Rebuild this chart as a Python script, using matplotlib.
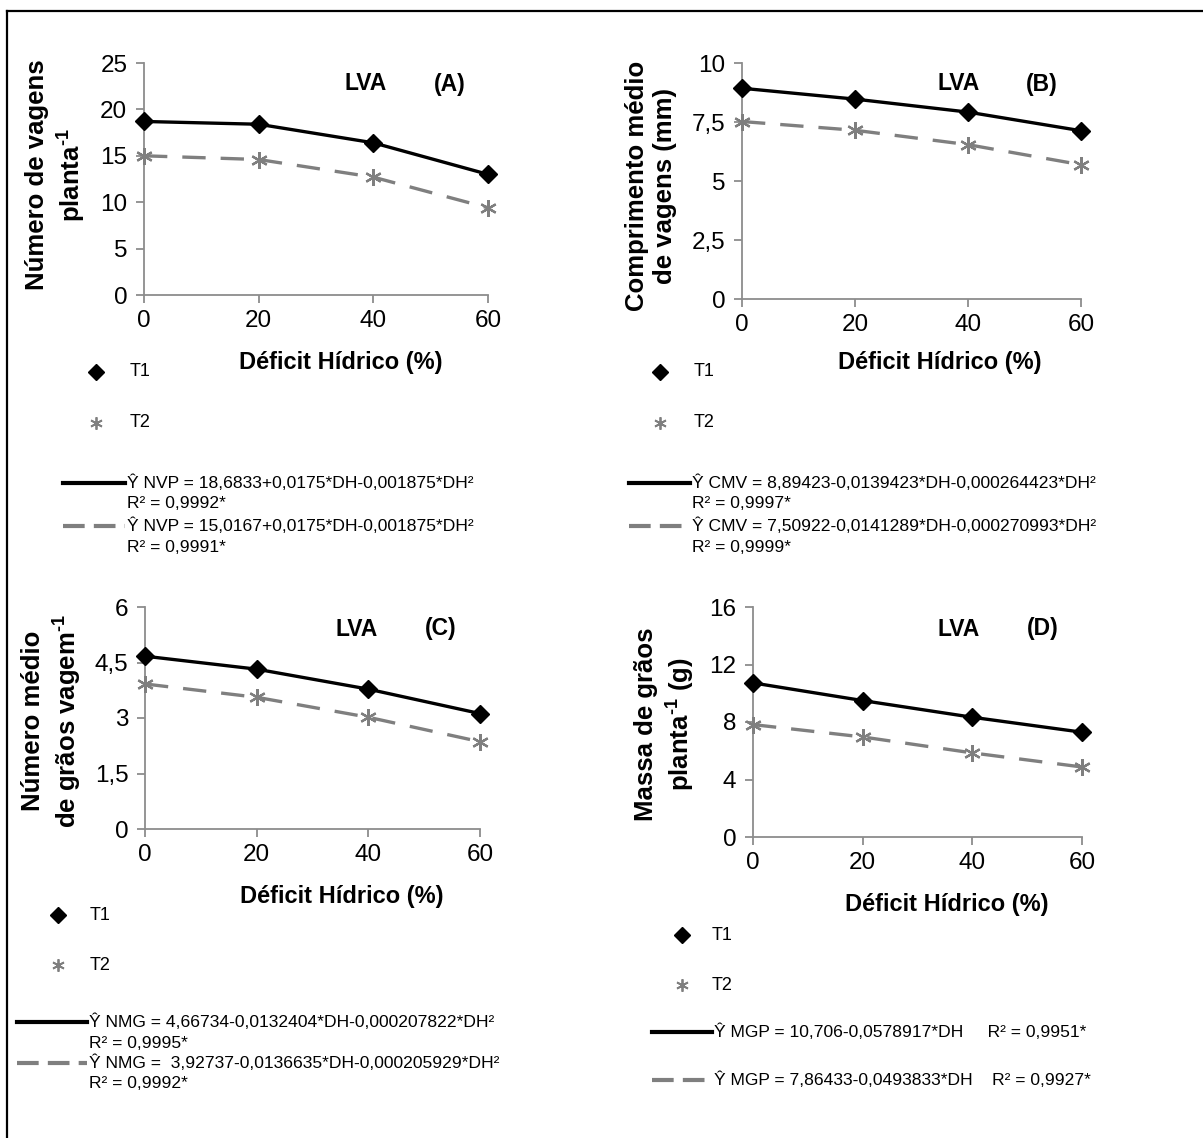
import matplotlib
matplotlib.use("Agg")
import matplotlib.pyplot as plt
from matplotlib.lines import Line2D

plt.rcParams['font.family'] = ['Liberation Sans', 'DejaVu Sans']
plt.rcParams['mathtext.fontset'] = 'custom'
plt.rcParams['mathtext.rm'] = 'Liberation Sans:bold'
plt.rcParams['mathtext.bf'] = 'Liberation Sans:bold'

W, H = 1203, 1138

deficit = [0, 20, 40, 60]

# (A) numero de vagens por planta
nvp_t1 = [18.7, 18.4, 16.4, 13.0]
nvp_t2 = [15.0, 14.6, 12.7, 9.4]
# (B) comprimento medio de vagens
cmv_t1 = [8.93, 8.47, 7.92, 7.13]
cmv_t2 = [7.52, 7.15, 6.54, 5.69]
# (C) numero medio de graos por vagem
nmg_t1 = [4.67, 4.32, 3.78, 3.12]
nmg_t2 = [3.92, 3.56, 3.02, 2.36]
# (D) massa de graos por planta
mgp_t1 = [10.72, 9.49, 8.33, 7.29]
mgp_t2 = [7.82, 6.96, 5.85, 4.87]

eq_a = ["Ŷ NVP = 18,6833+0,0175*DH-0,001875*DH²", "R² = 0,9992*",
        "Ŷ NVP = 15,0167+0,0175*DH-0,001875*DH²", "R² = 0,9991*"]
eq_b = ["Ŷ CMV = 8,89423-0,0139423*DH-0,000264423*DH²", "R² = 0,9997*",
        "Ŷ CMV = 7,50922-0,0141289*DH-0,000270993*DH²", "R² = 0,9999*"]
eq_c = ["Ŷ NMG = 4,66734-0,0132404*DH-0,000207822*DH²", "R² = 0,9995*",
        "Ŷ NMG =  3,92737-0,0136635*DH-0,000205929*DH²", "R² = 0,9992*"]
eq_d = ["Ŷ MGP = 10,706-0,0578917*DH     R² = 0,9951*",
        "Ŷ MGP = 7,86433-0,0493833*DH    R² = 0,9927*"]

yticks_a = [0, 5, 10, 15, 20, 25]
yticks_b = [0, 2.5, 5, 7.5, 10]
yticks_c = [0, 1.5, 3, 4.5, 6]
yticks_d = [0, 4, 8, 12, 16]

ylabel_a = "Número de vagens\nplanta$^{\\text{-1}}$"
ylabel_b = "Comprimento médio\nde vagens (mm)"
ylabel_c = "Número médio\nde grãos vagem$^{\\text{-1}}$"
ylabel_d = "Massa de grãos\nplanta$^{\\text{-1}}$ (g)"

GRAY = '#7f7f7f'
AXC = '#8c8c8c'
EQ_FS = 12.6


def fx(x):
    return x / W


def fy(y):
    return 1 - y / H


fig = plt.figure(figsize=(W / 100, H / 100), dpi=100)

# outer frame (left + top visible)
fig.add_artist(Line2D([fx(7), fx(7)], [fy(11), fy(1140)], color='black', lw=1.6))
fig.add_artist(Line2D([fx(7), fx(1205)], [fy(11), fy(11)], color='black', lw=1.6))


def panel(box, t1, t2, yticks, ylab, ylab_xy, tag, lva_xy, tag_xy, xlab_xy):
    l, r, t, b = box
    ax = fig.add_axes([fx(l), fy(b), fx(r - l), (b - t) / H])
    ax.plot(deficit, t1, color='black', lw=2.4, marker='D', ms=9.5,
            mfc='black', mec='black', clip_on=False, zorder=4)
    ax.plot(deficit, t2, color=GRAY, lw=2.4, dashes=(7, 4.5),
            marker=(6, 2, 0), ms=12, mew=1.6, mec=GRAY, clip_on=False, zorder=3)
    ax.set_xlim(0, 60)
    ax.set_ylim(yticks[0], yticks[-1])
    ax.set_xticks(deficit)
    ax.set_yticks(yticks)
    ax.set_yticklabels([str(v).replace('.', ',') for v in yticks])
    for s in ['top', 'right']:
        ax.spines[s].set_visible(False)
    for s in ['left', 'bottom']:
        ax.spines[s].set_color(AXC)
        ax.spines[s].set_linewidth(1.3)
    ax.tick_params(axis='both', colors=AXC, labelcolor='black', labelsize=17.5,
                   length=6, width=1.3, direction='out')
    ax.tick_params(axis='x', pad=5)
    ax.tick_params(axis='y', pad=6)
    fig.text(fx(ylab_xy[0]), fy(ylab_xy[1]), ylab, rotation=90, fontsize=18.5,
             fontweight='bold', ha='center', va='center', multialignment='center')
    fig.text(fx(lva_xy[0]), fy(lva_xy[1]), 'LVA', fontsize=16.5, fontweight='bold',
             ha='center', va='center')
    fig.text(fx(tag_xy[0]), fy(tag_xy[1]), tag, fontsize=16.5, fontweight='bold',
             ha='center', va='center')
    fig.text(fx(xlab_xy[0]), fy(xlab_xy[1]), 'Déficit Hídrico (%)', fontsize=17,
             fontweight='bold', ha='center', va='center')
    return ax


def markers(mx, tx, y1, y2):
    fig.add_artist(Line2D([fx(mx)], [fy(y1)], marker='D', ms=8, color='black', lw=0))
    fig.text(fx(tx), fy(y1), 'T1', fontsize=13, va='center')
    fig.add_artist(Line2D([fx(mx)], [fy(y2)], marker=(6, 2, 0), ms=9, mew=1.3,
                          color=GRAY, lw=0))
    fig.text(fx(tx), fy(y2), 'T2', fontsize=13, va='center')


def lines(lx0, lx1, ys, ye):
    fig.add_artist(Line2D([fx(lx0), fx(lx1)], [fy(ys), fy(ys)], color='black', lw=3))
    fig.add_artist(Line2D([fx(lx0), fx(lx1)], [fy(ye), fy(ye)], color=GRAY, lw=3,
                          dashes=(5.2, 2.2)))


def legend(mx, tx, y1, y2, lx0, lx1, ys, ye, eqs):
    markers(mx, tx, y1, y2)
    lines(lx0, lx1, ys, ye)
    fig.text(fx(lx1 + 2), fy(ys), eqs[0], fontsize=EQ_FS, va='center')
    fig.text(fx(lx1 + 2), fy(ys + 21), eqs[1], fontsize=EQ_FS, va='center')
    fig.text(fx(lx1 + 2), fy(ye), eqs[2], fontsize=EQ_FS, va='center')
    fig.text(fx(lx1 + 2), fy(ye + 21), eqs[3], fontsize=EQ_FS, va='center')


panel((144, 488, 63, 295), nvp_t1, nvp_t2, yticks_a, ylabel_a, (56, 175),
      '(A)', (366, 84), (450, 84), (341, 363))
panel((742, 1081, 63, 299), cmv_t1, cmv_t2, yticks_b, ylabel_b, (651, 186),
      '(B)', (959, 84), (1042, 84), (940, 363))
panel((145, 480, 607, 829), nmg_t1, nmg_t2, yticks_c, ylabel_c, (52, 721),
      '(C)', (357, 629), (441, 629), (342, 897))
panel((753, 1082, 607, 837), mgp_t1, mgp_t2, yticks_d, ylabel_d, (665, 724),
      '(D)', (959, 629), (1043, 629), (947, 905))

legend(96, 130, 372, 423, 63, 125, 483, 526, eq_a)
legend(660, 694, 372, 423, 629, 690, 483, 526, eq_b)
legend(58, 90, 915, 965, 17, 87, 1022, 1063, eq_c)

# panel D legend: equation and R2 on one line
markers(682, 712, 935, 985)
lines(652, 712, 1032, 1080)
fig.text(fx(714), fy(1032), eq_d[0], fontsize=EQ_FS, va='center')
fig.text(fx(714), fy(1080), eq_d[1], fontsize=EQ_FS, va='center')

fig.savefig('out.png', dpi=100)
